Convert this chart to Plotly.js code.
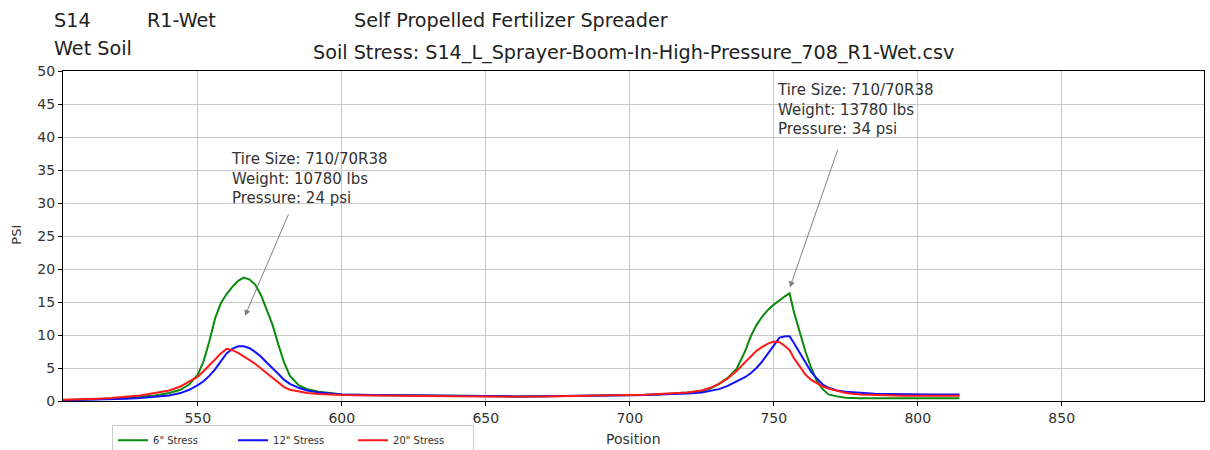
<!DOCTYPE html>
<html>
<head>
<meta charset="utf-8">
<script src="https://cdn.plot.ly/plotly-3.0.1.min.js"></script>
<style>html,body{margin:0;padding:0;background:#fff;}#chart{width:1210px;height:450px;}</style>
</head>
<body>
<div id="chart"></div>
<script>
// ---- data ----
const position = [503, 510, 515, 520, 525, 530, 535, 540, 544, 547, 550, 552, 554, 556, 558, 560, 562, 564, 566, 568, 570, 572, 574, 576, 578, 580, 582, 585, 588, 592, 596, 600, 610, 620, 630, 640, 650, 660, 670, 680, 690, 700, 705, 710, 715, 720, 725, 728, 731, 734, 737, 740, 742, 744, 746, 748, 750, 752, 754, 755.5, 757, 759, 761, 763, 765, 767, 769, 772, 775, 780, 785, 790, 795, 800, 805, 810, 814.5];

const stress6 = [0.15, 0.2, 0.25, 0.35, 0.45, 0.6, 0.85, 1.2, 1.7, 2.5, 4.0, 6.0, 9.0, 12.5, 14.8, 16.2, 17.3, 18.2, 18.7, 18.4, 17.6, 16.0, 13.8, 11.5, 8.5, 5.8, 3.8, 2.4, 1.8, 1.4, 1.2, 1.0, 0.9, 0.85, 0.8, 0.75, 0.7, 0.7, 0.72, 0.75, 0.8, 0.85, 0.9, 1.0, 1.1, 1.3, 1.5, 1.9, 2.6, 3.5, 4.8, 7.5, 9.8, 11.5, 12.8, 13.8, 14.6, 15.3, 15.9, 16.3, 13.5, 10.5, 7.5, 5.0, 3.0, 1.8, 1.0, 0.7, 0.5, 0.4, 0.4, 0.4, 0.4, 0.4, 0.4, 0.4, 0.4];

const stress12 = [0.1, 0.15, 0.2, 0.25, 0.35, 0.45, 0.6, 0.85, 1.2, 1.7, 2.4, 3.0, 3.8, 4.8, 6.0, 7.2, 7.9, 8.3, 8.3, 8.0, 7.4, 6.7, 5.8, 5.0, 4.1, 3.2, 2.6, 2.0, 1.6, 1.3, 1.1, 1.0, 0.9, 0.85, 0.8, 0.75, 0.7, 0.7, 0.72, 0.75, 0.8, 0.85, 0.9, 1.0, 1.05, 1.15, 1.3, 1.5, 1.8, 2.3, 2.9, 3.6, 4.2, 5.0, 6.0, 7.2, 8.4, 9.6, 9.8, 9.8, 8.8, 7.3, 5.8, 4.4, 3.4, 2.5, 2.0, 1.6, 1.4, 1.2, 1.1, 1.05, 1.0, 1.0, 1.0, 1.0, 1.0];

const stress20 = [0.2, 0.25, 0.35, 0.45, 0.6, 0.85, 1.2, 1.6, 2.2, 2.9, 3.7, 4.5, 5.4, 6.3, 7.2, 7.9, 7.7, 7.3, 6.8, 6.2, 5.6, 4.9, 4.1, 3.4, 2.7, 2.1, 1.7, 1.4, 1.2, 1.05, 0.95, 0.9, 0.85, 0.8, 0.75, 0.7, 0.65, 0.65, 0.7, 0.75, 0.8, 0.85, 0.95, 1.05, 1.15, 1.3, 1.6, 2.0, 2.6, 3.4, 4.5, 5.8, 6.8, 7.6, 8.2, 8.7, 9.0, 8.9, 8.3, 7.7, 6.5, 5.2, 4.0, 3.2, 2.7, 2.2, 1.9, 1.5, 1.2, 1.0, 0.9, 0.85, 0.8, 0.8, 0.8, 0.8, 0.8];

const seriesNames = ['6" Stress', '12" Stress', '20" Stress'];
const xTicks = [550, 600, 650, 700, 750, 800, 850];
const yTicks = [0, 5, 10, 15, 20, 25, 30, 35, 40, 45, 50];
const xTitle = 'Position';
const yTitle = 'PSI';

const headerLeft = ['S14', 'R1-Wet', 'Self Propelled Fertilizer Spreader', 'Wet Soil'];
const chartTitle = 'Soil Stress: S14_L_Sprayer-Boom-In-High-Pressure_708_R1-Wet.csv';

const tireNotes = [
  'Tire Size: 710/70R38<br>Weight: 10780 lbs<br>Pressure: 24 psi',
  'Tire Size: 710/70R38<br>Weight: 13780 lbs<br>Pressure: 34 psi'
];

// ---- chart ----
const FONT = 'DejaVu Sans, Arial, sans-serif';
const colors = ['#0a8a0a', '#1010ff', '#ff1a1a'];
const ys = [stress6, stress12, stress20];

const traces = ys.map((y, i) => ({
  x: position, y: y, type: 'scatter', mode: 'lines', name: seriesNames[i],
  line: {color: colors[i], width: 2}
}));

const annotations = [
  {text: headerLeft[0], x: -0.0096, y: 1.152, xanchor: 'left', yanchor: 'middle'},
  {text: headerLeft[1], x: 0.0719, y: 1.152, xanchor: 'left', yanchor: 'middle'},
  {text: headerLeft[2], x: 0.2533, y: 1.152, xanchor: 'left', yanchor: 'middle'},
  {text: headerLeft[3], x: -0.0096, y: 1.068, xanchor: 'left', yanchor: 'middle'},
  {text: chartTitle, x: 0.5, y: 1.056, xanchor: 'center', yanchor: 'middle'}
].map(a => Object.assign({xref: 'paper', yref: 'paper', showarrow: false,
  font: {family: FONT, size: 19.2, color: '#222'}}, a));

// axis titles
annotations.push(
  {text: xTitle, x: 0.5, y: -0.1165, xref: 'paper', yref: 'paper', xanchor: 'center', yanchor: 'middle',
   showarrow: false, font: {family: FONT, size: 14, color: '#333'}},
  {text: yTitle, x: -0.0403, y: 0.504, xref: 'paper', yref: 'paper', xanchor: 'center', yanchor: 'middle',
   textangle: -90, showarrow: false, font: {family: FONT, size: 13, color: '#333'}}
);

// note texts
annotations.push(
  {text: tireNotes[0], x: 560.9, y: 38.4, xref: 'x', yref: 'y', xanchor: 'left', yanchor: 'top',
   align: 'left', showarrow: false, font: {family: FONT, size: 15, color: '#333'}},
  {text: tireNotes[1], x: 750.4, y: 48.8, xref: 'x', yref: 'y', xanchor: 'left', yanchor: 'top',
   align: 'left', showarrow: false, font: {family: FONT, size: 15, color: '#333'}}
);
// arrows
annotations.push(
  {text: '', x: 566.4, y: 12.9, ax: 581.7, ay: 28.5, xref: 'x', yref: 'y', axref: 'x', ayref: 'y',
   showarrow: true, arrowhead: 2, arrowsize: 1.2, arrowwidth: 1, arrowcolor: '#808080'},
  {text: '', x: 755.6, y: 17.2, ax: 772.4, ay: 38.3, xref: 'x', yref: 'y', axref: 'x', ayref: 'y',
   showarrow: true, arrowhead: 2, arrowsize: 1.2, arrowwidth: 1, arrowcolor: '#808080'}
);

const layout = {
  width: 1210, height: 450,
  margin: {l: 63, r: 6, t: 71, b: 48.5, pad: 0},
  paper_bgcolor: '#fff', plot_bgcolor: '#fff',
  font: {family: FONT, size: 14, color: '#333'},
  showlegend: true,
  legend: {orientation: 'h', xref: 'container', yref: 'container', x: 0.0926, y: 0.056,
    xanchor: 'left', yanchor: 'top',
    font: {family: FONT, size: 10, color: '#333'}, bgcolor: '#fff', bordercolor: '#ccc', borderwidth: 1,
    entrywidth: 75, entrywidthmode: 'pixels', itemwidth: 30, tracegroupgap: 0},
  xaxis: {range: [503.2, 899.4], tickvals: xTicks, ticks: 'outside', ticklen: 4, tickcolor: '#000',
    showgrid: true, gridcolor: '#c8c8c8', gridwidth: 1, zeroline: false,
    showline: true, linecolor: '#000', linewidth: 1, mirror: true,
    tickfont: {family: FONT, size: 14, color: '#333'}},
  yaxis: {range: [0, 50], tickvals: yTicks, ticks: 'outside', ticklen: 4, tickcolor: '#000',
    showgrid: true, gridcolor: '#c8c8c8', gridwidth: 1, zeroline: false,
    showline: true, linecolor: '#000', linewidth: 1, mirror: true,
    tickfont: {family: FONT, size: 14, color: '#333'}},
  annotations: annotations
};

Plotly.newPlot('chart', traces, layout, {displayModeBar: false, staticPlot: true});
</script>
</body>
</html>
